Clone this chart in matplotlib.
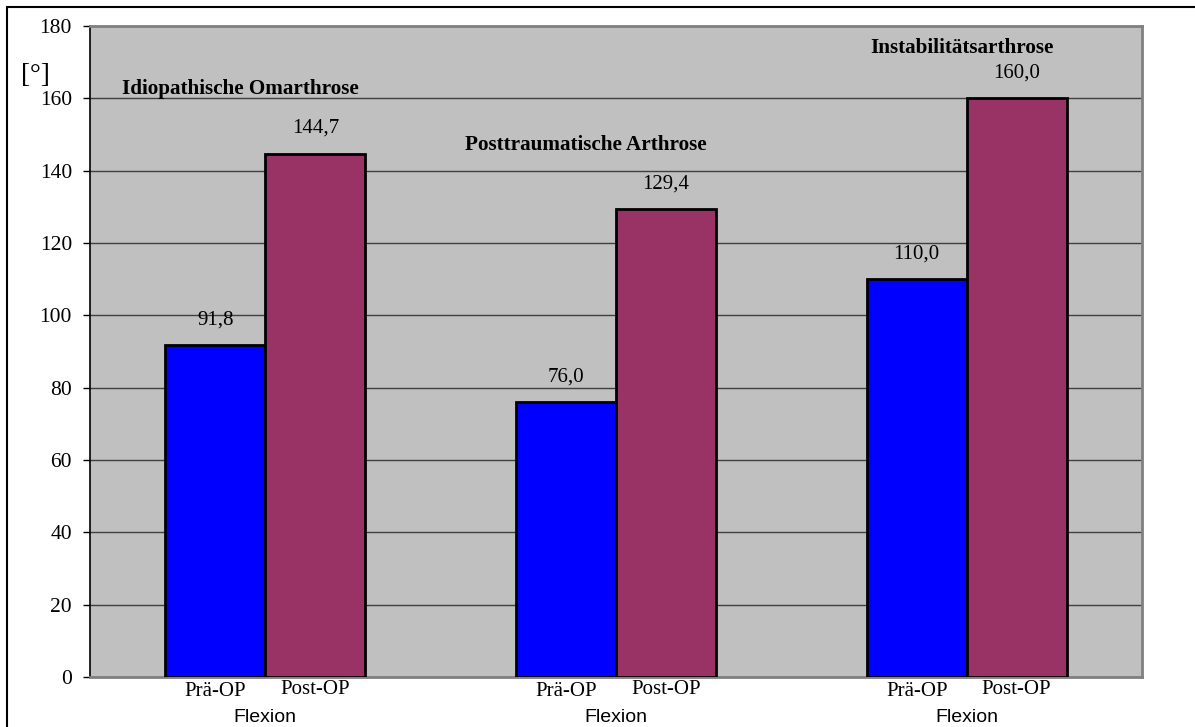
import matplotlib
matplotlib.use("Agg")
import matplotlib.pyplot as plt
from matplotlib.patches import Rectangle
import numpy as np

categories = ["Flexion", "Flexion", "Flexion"]
series_names = ["Prä-OP", "Post-OP"]
pre_values = [91.8, 76.0, 110.0]
post_values = [144.7, 129.4, 160.0]
group_titles = ["Idiopathische Omarthrose", "Posttraumatische Arthrose", "Instabilitätsarthrose"]
yticks = [0, 20, 40, 60, 80, 100, 120, 140, 160, 180]

W, H = 1195, 727
fig = plt.figure(figsize=(W / 100, H / 100), dpi=100)
fig.patch.set_facecolor("white")

# outer border
fig.add_artist(Rectangle((7 / W, -0.05), 1.2, (H - 7) / H + 0.05, transform=fig.transFigure,
                         fill=False, edgecolor="black", linewidth=1.5))

left, right, top, bottom = 90, 1142, 26, 677
ax = fig.add_axes([left / W, 1 - bottom / H, (right - left) / W, (bottom - top) / H])
ax.set_facecolor("#C0C0C0")

x = np.arange(len(categories))
bw = 0.285
ax.bar(x - bw / 2, pre_values, bw, color="#0000FF", edgecolor="black", linewidth=2, zorder=3)
ax.bar(x + bw / 2, post_values, bw, color="#993366", edgecolor="black", linewidth=2, zorder=3)

ax.set_xlim(-0.5, 2.5)
ax.set_ylim(0, 180)
ax.set_yticks(yticks)
ax.set_yticklabels([str(t) for t in yticks], fontfamily="Liberation Serif", fontsize=15.5)
ax.tick_params(axis="y", length=5, width=1, color="black", pad=8)
ax.set_xticks([])
ax.yaxis.grid(True, color="#404040", linewidth=1, zorder=1)
ax.set_axisbelow(True)

for s in ["top", "right", "bottom"]:
    ax.spines[s].set_color("#808080")
    ax.spines[s].set_linewidth(2)
ax.spines["left"].set_color("black")
ax.spines["left"].set_linewidth(1.2)

fmt = lambda v: f"{v:.1f}".replace(".", ",")
for i in range(len(categories)):
    ax.text(x[i] - bw / 2, pre_values[i] + 7, fmt(pre_values[i]), ha="center", va="center",
            fontfamily="Liberation Serif", fontsize=15, zorder=4)
    ax.text(x[i] + bw / 2, post_values[i] + 7, fmt(post_values[i]), ha="center", va="center",
            fontfamily="Liberation Serif", fontsize=15, zorder=4)
    ax.text(x[i] - bw / 2, -1.3, series_names[0], ha="center", va="top",
            fontfamily="Liberation Serif", fontsize=15, clip_on=False)
    ax.text(x[i] + bw / 2, -0.8, series_names[1], ha="center", va="top",
            fontfamily="Liberation Serif", fontsize=15, clip_on=False)
    ax.text(x[i], -8.8, categories[i], ha="center", va="top",
            fontfamily="Liberation Sans", fontsize=14, clip_on=False)

title_pos = [(-0.072, 162.7), (0.914, 147.0), (1.986, 174.0)]
for (tx, ty), t in zip(title_pos, group_titles):
    ax.text(tx, ty, t, ha="center", va="center", fontfamily="Liberation Serif",
            fontweight="bold", fontsize=15.2, zorder=4)

fig.text(35 / W, 1 - 76 / H, "[°]", ha="center", va="center",
         fontfamily="Liberation Serif", fontsize=19.5)

fig.savefig("out.png", dpi=100)
